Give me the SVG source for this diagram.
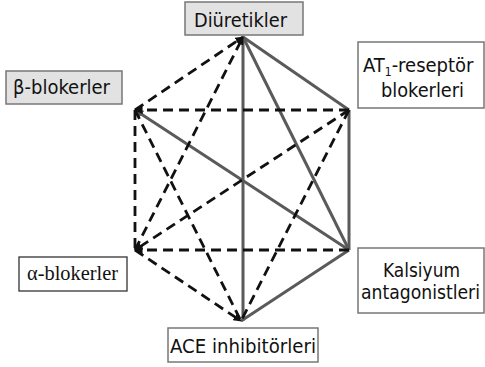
<svg xmlns="http://www.w3.org/2000/svg" width="485" height="367" viewBox="0 0 485 367">
<style>
.box{stroke:#777;stroke-width:1.5}
.g{fill:#e2e2e2}
.w{fill:#fff}
.t{font-family:"DejaVu Sans Condensed","DejaVu Sans","Noto Sans",sans-serif;font-size:20px;fill:#111}
.tt{font-family:"Liberation Serif","Times New Roman",serif;font-size:20px;fill:#111}
.s{stroke:#5a5a5a;stroke-width:3;fill:none}
.d{stroke:#111;stroke-width:2.8;fill:none;stroke-dasharray:10 6}
</style>
<defs>
<marker id="ab" viewBox="0 0 10 10" refX="9" refY="5" markerWidth="3" markerHeight="3" orient="auto" markerUnits="strokeWidth">
<path d="M0,0 L10,5 L0,10 z" fill="#111"/>
</marker>
<marker id="ag" viewBox="0 0 10 10" refX="9" refY="5" markerWidth="3" markerHeight="3" orient="auto" markerUnits="strokeWidth">
<path d="M0,0 L10,5 L0,10 z" fill="#5a5a5a"/>
</marker>
</defs>
<rect width="485" height="367" fill="#fff"/>
<g id="connectors">
<line class="s" x1="243" y1="37" x2="349" y2="110"/>
<line class="s" x1="243" y1="37" x2="349" y2="250"/>
<line class="s" x1="243" y1="37" x2="243" y2="321"/>
<line class="s" x1="349" y1="110" x2="349" y2="250"/>
<line class="s" x1="349" y1="250" x2="135" y2="110" marker-end="url(#ag)"/>
<line class="s" x1="349" y1="250" x2="241" y2="321"/>
<line class="d" x1="135" y1="110" x2="243" y2="37" marker-end="url(#ab)"/>
<line class="d" x1="349" y1="110" x2="135" y2="110" marker-end="url(#ab)"/>
<line class="d" x1="135" y1="110" x2="135" y2="250"/>
<line class="d" x1="349" y1="250" x2="135" y2="250" marker-end="url(#ab)"/>
<line class="d" x1="135" y1="110" x2="241" y2="321"/>
<line class="d" x1="135" y1="250" x2="243" y2="37" marker-end="url(#ab)"/>
<line class="d" x1="349" y1="110" x2="135" y2="250" marker-end="url(#ab)"/>
<line class="d" x1="349" y1="110" x2="241" y2="321"/>
<line class="d" x1="135" y1="250" x2="241" y2="321" marker-end="url(#ab)"/>
</g>
<g id="diuretikler">
<rect class="box g" x="185" y="2" width="118" height="33"/>
<text class="t" x="194" y="27" textLength="93" lengthAdjust="spacingAndGlyphs">Diüretikler</text>
</g>
<g id="at1">
<rect class="box w" x="358" y="42" width="126" height="66"/>
<text class="t" x="363" y="72" font-size="19">AT<tspan font-size="12" dy="4">1</tspan><tspan dy="-4">-reseptör</tspan></text>
<text class="t" x="381" y="97" textLength="83" lengthAdjust="spacingAndGlyphs">blokerleri</text>
</g>
<g id="beta">
<rect class="box g" x="6" y="71" width="116" height="33"/>
<text class="t" x="13" y="94" textLength="97" lengthAdjust="spacingAndGlyphs">β-blokerler</text>
</g>
<g id="alpha">
<rect x="19" y="257" width="108" height="34" fill="#fff" stroke="#333" stroke-width="1.3"/>
<text class="tt" x="27" y="280" textLength="91" lengthAdjust="spacingAndGlyphs">α-blokerler</text>
</g>
<g id="kalsiyum">
<rect class="box w" x="358" y="248" width="126" height="65"/>
<text class="t" x="383" y="277" font-size="19" textLength="77" lengthAdjust="spacingAndGlyphs">Kalsiyum</text>
<text class="t" x="361" y="299" font-size="18" textLength="119" lengthAdjust="spacingAndGlyphs">antagonistleri</text>
</g>
<g id="ace">
<rect class="box w" x="168" y="328" width="150" height="34"/>
<text class="t" x="170" y="353" textLength="146" lengthAdjust="spacingAndGlyphs">ACE inhibitörleri</text>
</g>
</svg>
